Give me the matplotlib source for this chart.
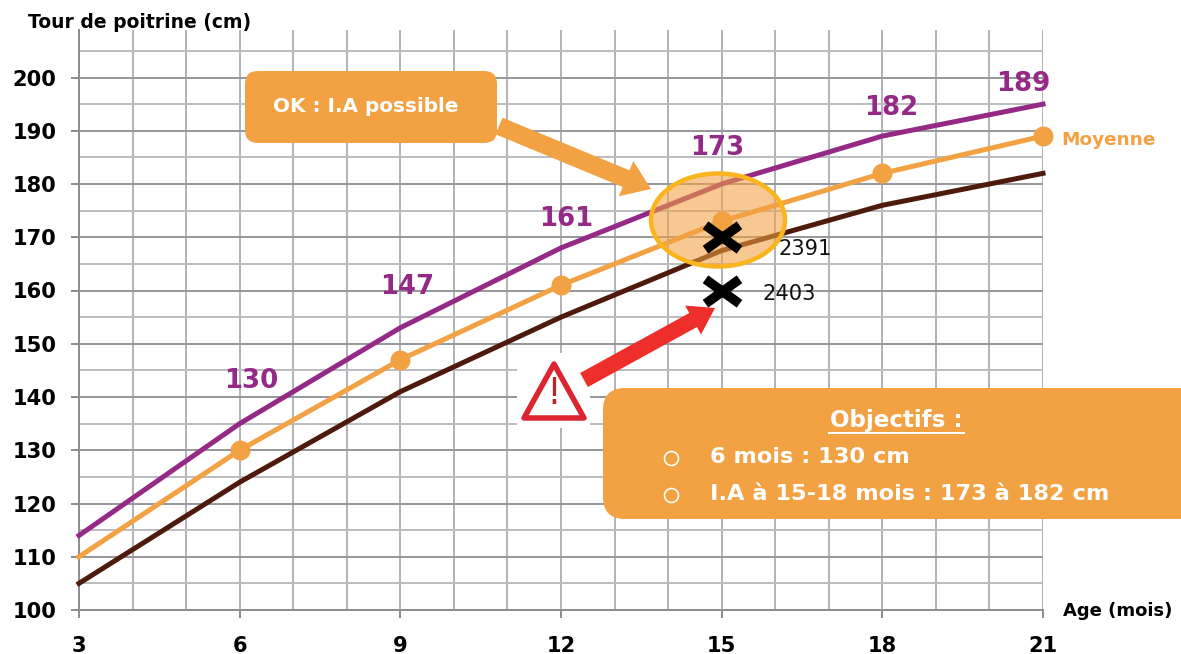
import matplotlib
matplotlib.use("Agg")
import matplotlib.pyplot as plt
from matplotlib.patches import FancyBboxPatch, Ellipse, Polygon, FancyArrow, Rectangle
from matplotlib.path import Path
from matplotlib.markers import MarkerStyle

plt.rcParams['font.family'] = ['DejaVu Sans']

W, H = 1181, 654
months = [3, 6, 9, 12, 15, 18, 21]
haut = [114, 135, 153, 168, 180, 189, 195]
moyenne = [110, 130, 147, 161, 173, 182, 189]
bas = [105, 124, 141, 155, 167.5, 176, 182]
mark_months = [6, 9, 12, 15, 18, 21]
mark_values = [130, 147, 161, 173, 182, 189]
y_ticks = [100, 110, 120, 130, 140, 150, 160, 170, 180, 190, 200]
vaches = [("2391", 15, 170), ("2403", 15, 160)]

PURPLE, ORANGE, BROWN = '#952A86', '#F2A143', '#4E1A0C'
px = 0.72  # points per pixel at 100 dpi

fig = plt.figure(figsize=(W / 100, H / 100), dpi=100)
x0, x1, y0, y1 = 79, 1043, 610, 30
ax = fig.add_axes([x0 / W, 1 - y0 / H, (x1 - x0) / W, (y0 - y1) / H])
ax.set_xlim(3, 21)
ax.set_ylim(100, 100 + (610 - 30) / 5.325)

for s in ['top', 'right']:
    ax.spines[s].set_visible(False)
for s in ['left', 'bottom']:
    ax.spines[s].set_color('#8E8F93')
    ax.spines[s].set_linewidth(2 * px)

ax.set_xticks(months)
ax.set_yticks(y_ticks)
ax.set_xticks(list(range(3, 22)), minor=True)
ax.set_yticks(list(range(105, 206, 10)), minor=True)
ax.grid(True, axis='x', which='both', color='#B2B4B8', lw=2 * px, zorder=0)
ax.grid(True, axis='y', which='major', color='#98999D', lw=2 * px, zorder=0)
ax.grid(True, axis='y', which='minor', color='#BBBDC1', lw=2 * px, zorder=0)
ax.tick_params(axis='both', which='minor', length=0)
ax.tick_params(axis='y', which='major', length=8 * px, width=2 * px, color='#8E8F93', pad=10.5)
ax.tick_params(axis='x', which='major', length=8 * px, width=2 * px, color='#8E8F93', pad=13)
ax.set_axisbelow(True)
for lab in ax.get_xticklabels() + ax.get_yticklabels():
    lab.set_fontsize(21 * px)
    lab.set_fontweight('bold')
    lab.set_color('black')

ax.plot(months, haut, color=PURPLE, lw=5 * px, zorder=3, clip_on=False)
ax.plot(months, bas, color=BROWN, lw=5 * px, zorder=3, clip_on=False)
ax.plot(months, moyenne, color=ORANGE, lw=5 * px, zorder=3, clip_on=False)
ax.plot(mark_months, mark_values, 'o', color=ORANGE, ms=20 * px, mew=0, zorder=4, clip_on=False)

# overlay in image pixels for the hand-placed annotations
ov = fig.add_axes([0, 0, 1, 1], facecolor='none')
ax.set_zorder(1)
ov.set_zorder(2)
ov.axis('off')

ov.text(28, 23, 'Tour de poitrine (cm)', fontsize=18.8 * px, fontweight='bold', va='center')
ov.text(1063, 611, 'Age (mois)', fontsize=18 * px, fontweight='bold', va='center')
ov.text(1061, 140, 'Moyenne', color=ORANGE, fontsize=18.5 * px, fontweight='bold', va='center')

label_pos = [(251, 381), (407, 287), (566, 219), (717, 148), (891, 108), (1023, 84)]
for (lx, ly), v in zip(label_pos, mark_values):
    ov.text(lx, ly, str(v), color=PURPLE, fontsize=26 * px, fontweight='bold', ha='center', va='center')

# OK box and arrow
ov.add_patch(FancyBboxPatch((245, 71), 252, 72, boxstyle='round,pad=0,rounding_size=13',
                            fc=ORANGE, ec='none', zorder=5))
ov.text(273, 107, 'OK : I.A possible', color='white', fontsize=20 * px, fontweight='bold', va='center', zorder=6)
ov.add_patch(FancyArrow(499, 126, 152, 63, width=18, head_width=38, head_length=27,
                        length_includes_head=True, fc=ORANGE, ec='none', zorder=5))

# highlight ellipse
ov.add_patch(Ellipse((718, 220), 133, 92, fc=(0.95, 0.63, 0.26, 0.58), ec='none', zorder=5))
ov.add_patch(Ellipse((718, 220), 134, 93, fc='none', ec='#F9B41E', lw=4.5 * px, zorder=6))

# crosses, a little wider than tall
cross = MarkerStyle(Path([(-1, -0.72), (1, 0.72), (-1, 0.72), (1, -0.72)],
                         [Path.MOVETO, Path.LINETO, Path.MOVETO, Path.LINETO]), capstyle='butt')
for name, mx, my in vaches:
    ov.plot([mx], [my], marker=cross, color='black', ms=34 * px, mew=9.5 * px, mfc='none',
            transform=ax.transData, zorder=10, clip_on=False)
ov.set_xlim(0, W)
ov.set_ylim(H, 0)
ov.text(779, 249, vaches[0][0], fontsize=21 * px, va='center', color='#111111', zorder=10)
ov.text(762, 294, vaches[1][0], fontsize=21 * px, va='center', color='#111111', zorder=10)

# warning triangle on its white square, and arrow
ov.add_patch(Rectangle((517, 353), 73, 75, fc='white', ec='none', zorder=5))
ov.add_patch(FancyArrow(584, 380, 131, -72, width=16, head_width=33, head_length=25,
                        length_includes_head=True, fc='#EE2E2A', ec='none', zorder=5))
ov.add_patch(Polygon([(554, 364), (584, 418), (524, 418)], closed=True, joinstyle='round',
                     fc='white', ec='#DB2530', lw=5.5 * px, zorder=6))
ov.text(554, 393, '!', color='#C2202E', fontsize=37 * px, fontweight='normal', ha='center', va='center', zorder=7)

# objectives box
ov.add_patch(FancyBboxPatch((603, 388), 640, 131, boxstyle='round,pad=0,rounding_size=22',
                            fc=ORANGE, ec='none', zorder=5, clip_on=True))
ov.text(896, 420, 'Objectifs :', color='white', fontsize=23 * px, fontweight='bold',
        ha='center', va='center', zorder=6)
ov.plot([829, 964], [433, 433], color='white', lw=2 * px, zorder=6)
ov.text(710, 457, '6 mois : 130 cm', color='white', fontsize=22.5 * px, fontweight='bold', va='center', zorder=6)
ov.text(710, 494, 'I.A à 15-18 mois : 173 à 182 cm', color='white', fontsize=22.5 * px, fontweight='bold', va='center', zorder=6)
for by in (458, 495):
    ov.plot([671], [by], 'o', ms=14 * px, mfc='none', mec='white', mew=1.6 * px, zorder=6)
ov.set_xlim(0, W)
ov.set_ylim(H, 0)

fig.savefig('out.png', dpi=100)
